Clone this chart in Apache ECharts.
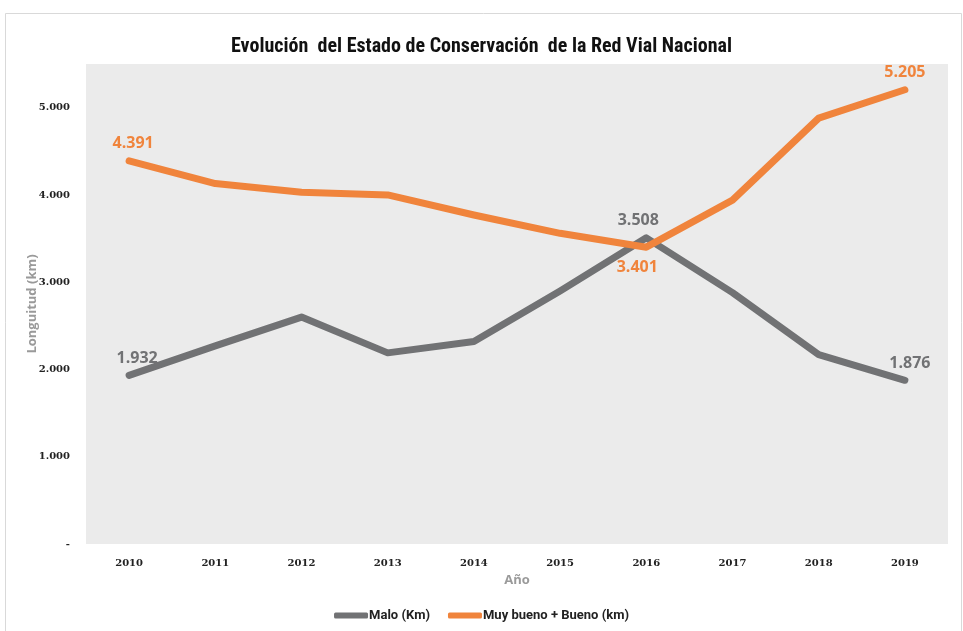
<!DOCTYPE html>
<html>
<head>
<meta charset="utf-8">
<script src="https://cdn.jsdelivr.net/npm/echarts@6/dist/echarts.min.js"></script>
<style>html,body{margin:0;padding:0;background:#fff;}#c{width:963px;height:631px;}</style>
</head>
<body>
<div id="c"></div>
<script>
const years = ['2010','2011','2012','2013','2014','2015','2016','2017','2018','2019'];
const malo = [1932, 2270, 2600, 2190, 2320, 2900, 3508, 2880, 2170, 1876];
const bueno = [4391, 4130, 4030, 4000, 3770, 3560, 3401, 3940, 4880, 5205];
const labeledIdx = [0, 6, 9];
const yTicks = [0, 1000, 2000, 3000, 4000, 5000];

function fmt(v){
  if (v === 0) return '-';
  return String(v).replace(/\B(?=(\d{3})+(?!\d))/g, '.');
}
const GRAY = '#717274';
const ORANGE = '#f0843c';
const chart = echarts.init(document.getElementById('c'));
function withLabels(arr, color, posFn, offFn){
  return arr.map((v,i)=> {
    if (labeledIdx.indexOf(i) < 0) return {value: v, label: {show: false}};
    return {value: v, label: {show: true, position: posFn(i), offset: offFn(i), distance: 9, color: color, fontSize: 16, fontWeight: 'bold', fontFamily: 'Open Sans', formatter: p => fmt(p.value)}};
  });
}
chart.setOption({
  animation: false,
  backgroundColor: '#fff',
  title: {
    text: 'Evolución  del Estado de Conservación  de la Red Vial Nacional',
    left: 'center', top: 32,
    textStyle: {fontFamily: 'Liberation Sans Narrow, Roboto Condensed, Roboto', fontSize: 20, fontWeight: 'bold', color: '#111'}
  },
  graphic: [{type: 'rect', shape: {x: 5.5, y: 13.5, width: 956, height: 640}, style: {fill: 'none', stroke: '#d9d9d9', lineWidth: 1}, silent: true}],
  grid: {left: 86, right: 15, top: 64, bottom: 87, show: true, backgroundColor: '#ebebeb', borderWidth: 0},
  legend: {
    bottom: 4, left: 'center',
    itemWidth: 34, itemHeight: 6, icon: 'roundRect', itemGap: 18,
    textStyle: {fontFamily: 'Liberation Sans Narrow, Roboto', fontSize: 13, fontWeight: 'bold', color: '#222', padding: [0,0,0,-4]},
    data: ['Malo (Km)', 'Muy bueno + Bueno (km)']
  },
  xAxis: {
    type: 'category', data: years, boundaryGap: true,
    name: 'Año', nameLocation: 'middle', nameGap: 30, nameMoveOverlap: false,
    nameTextStyle: {color: '#9a9a9a', fontSize: 13, fontWeight: 'bold', fontFamily: 'Open Sans'},
    axisLine: {show: false}, axisTick: {show: false},
    axisLabel: {color: '#222', fontSize: 10, fontWeight: 'bold', fontFamily: 'DejaVu Serif', margin: 14}
  },
  yAxis: {
    type: 'value', min: 0, max: 5500, interval: 1000,
    name: 'Longuitud (km)', nameLocation: 'middle', nameGap: 47, nameRotate: 90, nameMoveOverlap: false,
    nameTextStyle: {color: '#9a9a9a', fontSize: 13, fontWeight: 'bold', fontFamily: 'Open Sans'},
    splitLine: {show: false}, axisLine: {show: false}, axisTick: {show: false},
    axisLabel: {showMaxLabel: false, color: '#222', fontSize: 10, fontWeight: 'bold', fontFamily: 'DejaVu Serif', margin: 16, formatter: fmt}
  },
  series: [
    {name: 'Malo (Km)', type: 'line', data: withLabels(malo, GRAY, i => 'top', i => i === 0 ? [8,0] : (i === 6 ? [-8,0] : [5,0])),
     showSymbol: true, symbol: 'circle', symbolSize: 0, color: GRAY, z: 2,
     lineStyle: {width: 7, color: GRAY, cap: 'round', join: 'round'}},
    {name: 'Muy bueno + Bueno (km)', type: 'line', data: withLabels(bueno, ORANGE, i => i === 6 ? 'bottom' : 'top', i => i === 0 ? [4,0] : (i === 6 ? [-9,3] : [0,0])),
     showSymbol: true, symbol: 'circle', symbolSize: 0, color: ORANGE, z: 3,
     lineStyle: {width: 7, color: ORANGE, cap: 'round', join: 'round'}}
  ]
});
</script>
</body>
</html>
